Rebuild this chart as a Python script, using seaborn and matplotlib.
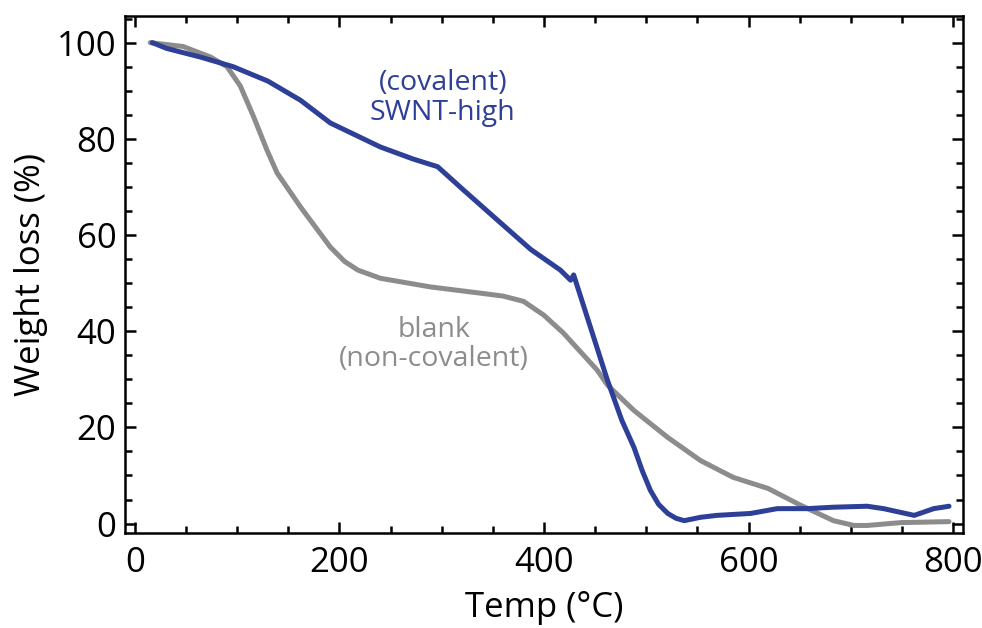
import numpy as np
import pandas as pd
import seaborn as sns
import matplotlib.pyplot as plt
from matplotlib.ticker import MultipleLocator

# TGA curves
swnt_temp = [17, 31, 64, 96, 130, 162, 191, 240, 272, 296, 321, 355, 387, 416, 426,
             429, 462, 476, 488, 496, 504, 512, 521, 529, 537, 553, 569, 602, 628,
             657, 683, 716, 732, 762, 781, 796]
swnt_wt = [100, 98.8, 97, 95, 92, 88, 83.3, 78.3, 75.8, 74.2, 69.4, 63, 57, 52.7, 50.6,
           51.7, 29.8, 21.5, 15.8, 11, 6.9, 4, 2.1, 1.1, 0.6, 1.3, 1.7, 2.1, 3.1,
           3.1, 3.4, 3.6, 3.1, 1.7, 3.1, 3.6]

blank_temp = [15, 47, 74, 90, 103, 116, 129, 139, 162, 191, 205, 218, 240, 289, 338,
              360, 380, 400, 419, 452, 462, 488, 521, 553, 585, 619, 651, 683, 703,
              716, 749, 796]
blank_wt = [100, 99.2, 97, 95, 91, 84.6, 77.7, 72.9, 65.8, 57.5, 54.5, 52.7, 51, 49.2,
            47.9, 47.3, 46.2, 43.3, 39.6, 31.9, 28.8, 23.5, 17.9, 13.1, 9.6, 7.3, 3.8,
            0.6, -0.4, -0.4, 0.2, 0.4]

x_ticks = [0, 200, 400, 600, 800]
y_ticks = [0, 20, 40, 60, 80, 100]

blue = "#2e3f98"
grey = "#8c8c8c"

sns.set_style("ticks")
plt.rcParams['font.family'] = ['Open Sans', 'DejaVu Sans']
plt.rcParams['text.color'] = 'black'
plt.rcParams['axes.labelcolor'] = 'black'
plt.rcParams['xtick.color'] = 'black'
plt.rcParams['ytick.color'] = 'black'

fig = plt.figure(figsize=(9.82, 6.28), dpi=100)
ax = fig.add_axes([0.127, 0.151, 0.854, 0.824])

swnt = pd.DataFrame({"temp": swnt_temp, "wt": swnt_wt})
blank = pd.DataFrame({"temp": blank_temp, "wt": blank_wt})

sns.lineplot(data=blank, x="temp", y="wt", sort=False, color=grey, lw=3.6,
             solid_capstyle="round", solid_joinstyle="round", ax=ax)
sns.lineplot(data=swnt, x="temp", y="wt", sort=False, color=blue, lw=3.6,
             solid_capstyle="round", solid_joinstyle="round", ax=ax)

ax.text(301, 88.5, "(covalent)\nSWNT-high", color=blue, fontsize=20.5,
        ha="center", va="center", linespacing=1.08)
ax.text(292, 37.2, "blank\n(non-covalent)", color=grey, fontsize=20.5,
        ha="center", va="center", linespacing=1.08)

ax.set_xlim(-10, 810)
ax.set_ylim(-2, 105.6)
ax.set_xticks(x_ticks)
ax.set_yticks(y_ticks)
ax.xaxis.set_minor_locator(MultipleLocator(50))
ax.yaxis.set_minor_locator(MultipleLocator(5))
ax.tick_params(which="both", direction="in", top=True, right=True, width=1.8,
               labelsize=25, color="black", labelcolor="black")
ax.tick_params(which="major", length=8, pad=6)
ax.tick_params(axis="x", which="major", pad=9)
ax.tick_params(which="minor", length=5)
for s in ax.spines.values():
    s.set_linewidth(1.8)
    s.set_color("black")

ax.set_xlabel("Temp (°C)", fontsize=25, labelpad=8)
ax.set_ylabel("Weight loss (%)", fontsize=25, labelpad=6)

fig.savefig("out.png", dpi=100)
